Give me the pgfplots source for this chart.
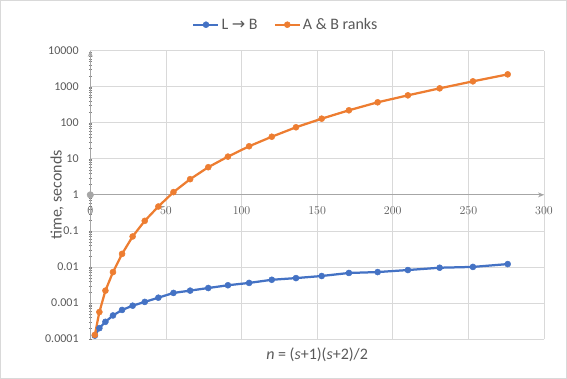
\documentclass[border=0pt]{standalone}
\usepackage{pgfplots}
\pgfplotsset{compat=1.18}
\usepackage{fontspec}
\setmainfont{Carlito}
\newfontfamily\symfont{DejaVu Sans}
\usetikzlibrary{arrows.meta}
\definecolor{sblue}{HTML}{4472C4}
\definecolor{sorange}{HTML}{ED7D31}
\definecolor{gridc}{HTML}{D9D9D9}
\definecolor{axc}{HTML}{A6A6A6}
\definecolor{txt}{HTML}{595959}
\begin{document}
\begin{tikzpicture}
\useasboundingbox (-90.3bp,-40bp) rectangle (476.7bp,339bp);
\draw[gridc, line width=0.75bp] (-89.9bp,-39.6bp) rectangle (476.3bp,338.6bp);
\begin{axis}[
  anchor=south west, at={(0,0)},
  scale only axis, width=453.7bp, height=288.3bp,
  xmin=0, xmax=300, ymin=1e-4, ymax=1e4, ymode=log,
  axis x line=middle, axis y line=left,
  axis line style={axc, line width=0.75bp},
  x axis line style={-{Stealth[length=6bp,width=5bp]}},
  y axis line style={-{Stealth[length=6bp,width=5bp]}},
  clip=false,
  grid=major, major grid style={gridc, line width=0.75bp},
  xtick={0,50,100,150,200,250,300},
  ytick={1e-4,1e-3,0.01,0.1,1,10,100,1000,1e4},
  yticklabels={0.0001,0.001,0.01,0.1,1,10,100,1000,10000},
  minor ytick={}, major tick length=0pt,
  hide obscured x ticks=false, hide obscured y ticks=false,
  ticklabel style={font=\fontsize{12bp}{14bp}\selectfont, text=txt},
  x tick label style={anchor=north, inner sep=0pt, yshift=-11.5bp},
  y tick label style={anchor=east, inner sep=0pt, xshift=-11.5bp},
  xlabel={\textit{n} = (\textit{s}+1)(\textit{s}+2)/2},
  ylabel={time, seconds},
  every axis x label/.style={at={(axis description cs:0.5,0)}, anchor=center, yshift=-15.6bp, font=\fontsize{16bp}{19bp}\selectfont, text=txt},
  every axis y label/.style={at={(axis description cs:-0.0734,0.5)}, rotate=90, anchor=center, font=\fontsize{16bp}{19bp}\selectfont, text=txt},
  legend style={at={(axis description cs:0.431,1)}, yshift=26bp, anchor=center, draw=none, fill=none, font=\fontsize{16bp}{19bp}\selectfont, text=txt, /tikz/every even column/.append style={column sep=14bp}},
  legend columns=2,
  legend image code/.code={\draw[mark repeat=2,mark phase=2,#1] plot coordinates {(0bp,0bp)(12.5bp,0bp)(25bp,0bp)};},
]
\addplot[sblue, line width=2.25bp, mark=*, mark size=3bp, mark options={solid, line width=0.5bp}] coordinates {
(3,1.24e-4) (6,2.0e-4) (10,3.0e-4) (15,4.5e-4) (21,6.4e-4) (28,8.4e-4)
(36,1.07e-3) (45,1.4e-3) (55,1.9e-3) (66,2.2e-3) (78,2.6e-3) (91,3.1e-3)
(105,3.6e-3) (120,4.4e-3) (136,4.9e-3) (153,5.6e-3) (171,6.8e-3) (190,7.2e-3)
(210,8.2e-3) (231,9.5e-3) (253,0.0100) (276,0.0120)
};
\addlegendentry{L {\symfont→} B}
\addplot[sorange, line width=2.25bp, mark=*, mark size=3bp, mark options={solid, line width=0.5bp}] coordinates {
(3,1.3e-4) (6,5.6e-4) (10,2.2e-3) (15,7.2e-3) (21,0.023) (28,0.070)
(36,0.19) (45,0.475) (55,1.19) (66,2.72) (78,5.85) (91,11.5)
(105,22.3) (120,41) (136,75) (153,130) (171,222) (190,370)
(210,577) (231,902) (253,1412) (276,2205)
};
\addlegendentry{A \& B ranks}
\addplot[only marks, mark=*, color=axc, mark size=3.3bp, forget plot] coordinates {(0,1)};
\end{axis}
\end{tikzpicture}
\end{document}
